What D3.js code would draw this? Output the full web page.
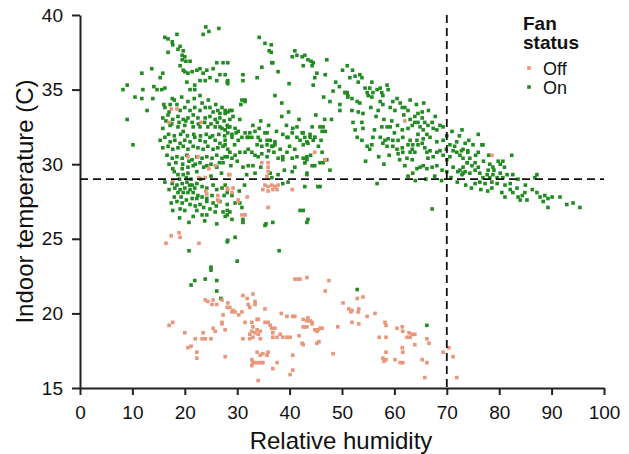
<!DOCTYPE html>
<html lang="en">
<head>
  <meta charset="UTF-8"/>
  <title>Fan status: indoor temperature vs relative humidity</title>
  <style>
    *{margin:0;padding:0;box-sizing:border-box}
    body{background:#fff;font-family:"Liberation Sans",Arial,sans-serif}
    #chart{width:629px;height:454px}
  </style>
</head>
<body>
  <div id="chart"></div>

  <script src="https://d3js.org/d3.v7.min.js"></script>
  <script>
    // [relative humidity, indoor temperature]
    const fanOn = [
      [24.0,39.2],[26.5,39.1],[24.6,38.9],[23.5,38.7],[16.2,38.5],[16.8,38.4],[17.6,38.2],[18.5,38.7],[17.7,38.0],[19.1,37.9],
      [18.7,37.7],[19.7,37.6],[16.8,37.5],[19.5,37.3],[20.0,37.2],[19.5,37.0],[20.2,36.9],[19.1,36.6],[21.0,36.9],[19.7,36.3],
      [20.0,36.2],[20.6,36.1],[21.4,36.2],[22.3,36.3],[22.9,36.4],[23.5,36.1],[24.2,36.3],[25.4,36.4],[26.1,36.8],[27.3,36.8],
      [26.7,36.0],[27.7,36.0],[28.1,35.5],[26.1,35.6],[24.8,35.8],[23.9,35.6],[22.9,35.6],[21.9,35.3],[20.4,35.5],[21.0,35.0],
      [21.9,35.0],[22.9,34.6],[15.8,36.1],[15.3,35.8],[13.7,36.4],[11.8,36.1],[14.1,35.2],[14.7,35.0],[15.6,35.0],[16.2,35.1],
      [12.0,35.0],[9.0,35.3],[8.2,35.0],[10.5,34.5],[11.8,34.4],[13.9,34.4],[12.8,33.6],[9.0,33.0],[17.6,34.4],[17.2,34.0],
      [16.2,33.8],[18.5,34.0],[19.1,33.6],[20.0,33.8],[21.0,33.6],[21.9,33.8],[22.9,33.6],[23.9,33.8],[24.8,33.8],[25.4,33.5],
      [26.3,33.6],[27.1,33.8],[27.7,33.4],[26.7,33.1],[25.8,33.0],[24.8,33.2],[23.9,33.1],[22.5,33.1],[21.6,33.3],[20.6,33.1],
      [19.7,33.0],[18.7,33.2],[17.7,33.0],[16.8,33.3],[15.8,33.1],[17.2,32.6],[18.7,32.5],[20.0,32.6],[21.6,32.5],[22.9,32.5],
      [24.4,32.5],[25.8,32.5],[27.1,32.4],[28.2,32.5],[19.7,32.2],[15.8,32.4],[10.1,31.3],
      [15.3,31.6],[16.2,31.8],[17.2,31.5],[18.1,31.6],[19.1,31.4],[20.0,31.6],[21.0,31.5],[21.9,31.8],[22.9,31.6],[23.9,31.5],
      [24.8,31.8],[25.8,31.6],[26.7,31.4],[27.7,31.6],[15.8,31.1],[16.8,31.2],[17.7,31.0],[18.7,31.1],[19.7,31.2],[20.6,31.0],
      [21.6,31.2],[22.5,31.1],[23.5,31.0],[24.4,31.2],[25.4,31.0],[26.3,31.1],[27.3,31.2],[28.2,31.0],[16.6,30.6],[17.6,30.4],
      [18.5,30.5],[19.5,30.4],[20.4,30.6],[21.4,30.3],[22.3,30.5],[23.3,30.4],[24.2,30.5],[25.2,30.4],[26.1,30.6],[27.1,30.4],
      [28.1,30.5],[17.7,29.7],[19.5,29.7],[20.6,29.8],[21.6,29.9],[22.9,30.1],[24.2,29.9],[26.1,29.8],[27.3,30.1],[18.7,29.3],
      [19.7,29.3],[20.6,29.4],[22.3,29.5],
      [16.9,32.0],[18.0,31.9],[19.2,32.0],[20.5,31.9],[21.7,32.0],[23.0,31.9],[24.1,32.0],[25.3,31.9],[26.5,32.0],[27.6,31.9],
      [29.0,32.0],[16.4,32.9],[17.5,32.7],[18.9,32.8],[20.2,32.9],[21.4,32.8],[22.6,32.7],[23.8,32.8],[25.0,32.7],[26.2,32.8],
      [27.5,32.9],[16.0,34.0],[17.0,33.5],[18.0,34.3],[19.4,34.5],[20.6,34.2],[21.8,34.4],[23.3,34.1],[24.5,34.3],[25.9,34.0],
      [17.0,30.0],[18.3,30.1],[19.6,30.0],[20.8,30.2],[22.0,30.0],[23.6,29.8],[25.0,30.0],[26.6,30.1],[28.8,29.9],[29.5,31.3],
      [30.0,30.2],[18.0,29.5],[19.0,29.0],[20.3,29.1],[21.2,29.0],[23.0,29.0],[25.0,29.2],[27.0,29.4],
      [16.2,28.8],[17.6,28.7],[18.5,28.6],[19.5,28.7],[20.4,28.8],[21.4,28.6],[22.3,28.7],[18.1,28.4],[19.1,28.3],[20.0,28.4],
      [21.0,28.3],[21.9,28.4],[18.7,28.1],[19.7,28.1],[20.6,28.1],[21.6,28.1],[22.5,27.9],[21.4,27.7],[22.3,27.7],[23.3,27.8],
      [24.2,27.7],[25.2,27.9],[26.1,28.3],[27.1,28.4],[27.7,28.6],[28.1,28.1],[25.4,28.6],[24.2,28.4],[23.3,28.5],[18.5,27.5],
      [19.5,27.4],[22.9,27.3],[24.2,27.5],[25.4,27.4],[26.7,27.5],[28.1,27.3],[17.7,26.9],[19.1,27.0],[20.0,26.9],[22.3,26.9],
      [23.3,26.6],[24.2,26.6],[25.8,26.8],[27.3,26.8],[28.1,26.6],
      [17.0,28.3],[18.0,27.8],[19.3,27.8],[20.3,27.6],[21.0,27.3],[22.0,27.2],[23.6,27.1],[24.8,27.0],[26.0,27.2],[27.5,27.9],
      [29.0,27.9],[30.4,28.2],[31.4,28.6],[20.9,28.6],[19.0,26.4],[21.6,26.5],[23.8,26.2],[17.4,27.4],
      [20.8,26.1],[26.1,26.0],[20.8,24.2],[28.2,24.9],[29.6,25.1],[30.0,23.5],[31.1,26.1],[35.5,26.0],[36.8,26.1],[38.0,24.2],
      [43.3,26.1],[25.0,23.1],[25.0,22.9],[21.2,21.9],[21.9,22.2],[23.9,22.3],[26.1,22.2],[26.1,21.5],[26.9,21.0],[52.9,21.6],
      [66.2,19.2],[67.2,27.0],[56.7,28.7],
      [34.2,38.5],[35.3,38.1],[36.5,38.0],[36.1,37.6],[36.5,37.5],[41.0,37.6],[41.4,37.3],[40.5,37.2],[42.9,37.3],[44.1,36.9],
      [44.5,36.8],[44.3,36.6],[42.6,36.6],[47.1,37.0],[45.2,36.1],[44.8,35.8],[46.8,36.0],[44.5,35.3],[39.9,35.4],[37.8,36.2],
      [36.6,36.8],[33.8,35.8],[31.1,36.0],[31.1,35.6],[28.2,36.8],[28.2,35.6],[28.2,35.4],[37.2,34.6],[38.5,34.1],[38.5,33.2],
      [30.7,34.0],[31.5,34.2],[34.5,32.9],[48.3,34.9],[47.7,34.2],[49.6,34.0],[50.6,34.8],[51.1,34.5],[51.0,34.8],[34.7,36.5],
      [36.8,36.8],[30.9,34.3],[43.5,37.0],[42.4,37.2],
      [27.7,33.6],[28.2,33.5],[29.0,33.6],[28.6,33.0],[28.1,32.6],[27.7,32.3],[28.2,32.1],[29.6,32.4],[30.2,32.2],[30.9,31.8],
      [31.5,32.1],[29.0,31.8],[30.2,31.6],[32.4,32.1],[32.8,31.8],[32.1,31.8],[34.0,31.8],[35.3,32.1],[35.7,31.6],[36.3,31.6],
      [37.2,31.5],[37.2,31.3],[36.6,31.2],[35.7,31.3],[34.7,31.2],[33.8,31.3],[40.6,32.4],[41.4,32.5],[40.5,32.1],[39.5,31.8],
      [39.7,31.8],[41.4,31.8],[42.0,31.6],[42.4,32.1],[42.9,31.8],[43.9,32.0],[44.5,31.6],[44.8,31.8],[45.8,32.5],[46.4,32.5],
      [44.3,32.5],[43.3,31.5],[42.6,31.3],[43.5,31.4],[27.7,31.3],[28.6,30.8],[29.6,30.6],[30.5,30.8],[31.5,30.8],[32.1,31.0],
      [32.8,30.8],[33.4,30.6],[34.0,30.5],[34.7,30.7],[35.7,30.5],[27.7,30.5],[29.0,30.4],[37.8,30.4],[38.7,30.3],[38.7,30.5],
      [39.5,30.8],[40.5,30.4],[41.4,30.5],[42.6,30.4],[42.9,30.1],[43.3,30.5],[44.8,29.9],[45.8,30.1],[46.4,30.1],[46.8,30.3],
      [47.7,29.6],[31.1,29.8],[32.1,29.9],[33.4,29.4],[34.5,29.8],[36.3,29.4],[36.6,29.1],[37.8,29.3],[40.5,29.5],[41.0,29.8],
      [43.3,29.3],[45.8,28.5],[45.4,28.5],[30.9,27.1],[30.5,27.4],[29.6,27.4],[28.6,26.8],[28.1,26.9],[31.1,26.3],[27.7,26.5],
      [29.0,26.3],[35.3,25.9],[42.6,26.9],[28.1,24.8],[38.7,28.7],[39.7,28.8],[42.9,28.5],
      [26.7,33.4],[28.6,33.6],[29.2,33.2],[30.5,33.0],[31.5,34.3],[26.7,32.5],[28.6,32.5],[29.8,32.1],[31.9,31.8],[33.4,32.2],
      [34.4,31.6],[35.7,32.1],[36.8,31.2],[42.6,32.1],[43.9,31.8],[44.8,31.8],[46.2,32.2],[46.8,32.2],[43.3,30.3],[42.9,30.1],
      [44.3,29.9],[46.2,30.8],[47.1,30.3],[43.3,29.4],[42.0,26.9],[43.5,26.3],
      [33.0,32.6],[34.2,32.4],[36.0,32.6],[37.5,32.2],[38.7,32.0],[39.4,32.6],[40.0,31.2],[41.0,31.0],[38.2,31.0],[37.0,30.8],
      [36.0,30.9],[39.0,29.6],[33.0,29.9],[31.8,29.3],[44.0,30.6],[45.5,31.2],[46.0,31.6],[41.8,33.0],[39.8,33.5],[45.0,33.3],
      [46.7,33.0],
      [51.0,36.6],[51.5,35.8],[52.5,35.9],[53.4,36.0],[53.8,35.8],[53.1,35.5],[54.4,35.1],[54.8,34.8],[55.3,35.1],[55.7,35.5],
      [55.0,34.6],[55.7,34.5],[55.9,34.8],[56.7,35.0],[57.3,35.1],[57.6,34.8],[58.6,35.3],[58.8,35.0],[57.8,34.6],[50.6,34.8],
      [51.1,34.6],[51.9,34.4],[52.9,34.2],[53.4,34.1],[57.3,34.2],[57.8,34.0],[56.9,33.6],[59.2,33.8],[59.7,34.2],[60.5,34.4],
      [61.1,34.1],[61.5,33.8],[60.1,33.6],[62.0,33.8],[51.9,33.6],[52.1,32.8],[52.5,32.3],[53.1,33.5],[53.8,32.8],[54.0,32.4],
      [52.9,31.8],[49.6,33.6],[57.6,32.5],[58.6,32.5],[59.2,32.5],[55.9,31.8],[57.3,31.8],[58.2,31.6],[58.8,31.7],[59.7,31.6],
      [60.7,31.6],[54.8,31.2],[55.3,31.0],[55.7,31.3],[57.8,31.4],[58.6,31.2],[59.7,31.2],[60.5,31.0],[60.7,30.7],[61.5,31.1],
      [61.6,30.8],[62.4,30.4],[63.0,30.8],[63.4,31.0],[62.6,31.3],[63.0,31.6],[61.6,31.8],[61.5,32.3],[62.6,32.4],[63.4,32.6],
      [63.9,32.8],[64.5,32.8],[63.9,33.2],[64.5,33.4],[65.3,33.5],[64.9,32.5],[65.5,32.3],[65.8,32.8],[66.4,32.6],[67.2,32.8],
      [67.4,32.4],[68.1,32.3],[68.7,32.6],[69.3,32.5],[66.2,32.0],[66.8,31.8],[65.5,31.7],[64.5,32.0],[65.3,33.1],[63.0,33.0],
      [64.3,31.6],[65.3,31.4],[65.8,31.1],[66.2,30.8],[66.8,30.9],[67.4,30.5],[68.1,30.8],[68.7,30.9],[69.3,30.6],[70.0,30.3],
      [70.6,30.5],[71.2,30.9],[71.9,30.8],[72.5,30.6],[73.1,30.4],[73.9,30.1],[74.0,30.9],[73.5,31.4],[71.9,31.5],[70.6,31.3],
      [69.3,31.6],[68.1,31.5],[66.4,30.4],[65.5,29.9],[66.2,29.7],[67.2,29.8],[68.1,29.9],[69.1,29.6],[70.0,29.5],[71.2,29.8],
      [72.1,29.5],[73.1,29.4],[64.9,29.8],[64.3,29.7],[63.4,30.3],[63.9,30.8],[62.6,29.2],[64.5,31.3],[63.5,31.3],
      [56.5,33.2],[58.0,33.0],[59.5,32.9],[60.6,32.6],[61.8,33.3],[62.6,33.6],[60.0,32.1],[59.0,30.6],[61.0,30.3],[62.0,29.9],
      [63.5,29.4],[64.0,28.9],[66.0,29.0],[67.7,29.2],[69.0,28.9],[70.8,29.1],[72.0,28.8],[73.6,28.6],[74.7,28.4],[76.5,28.3],
      [77.8,28.2],[78.6,28.4],[70.0,31.9],[71.0,32.2],[72.4,31.9],[67.8,33.2],[66.5,33.6],[65.6,34.1],[64.2,34.0],[63.0,34.3],
      [69.9,31.0],[71.5,31.2],[72.8,30.9],[75.5,30.6],[77.0,30.2],[78.0,30.6],[79.0,29.6],[81.0,29.8],[83.6,29.0],[85.0,28.6],
      [76.0,32.0],[54.0,33.4],[55.5,33.8],[56.2,32.3],[54.5,30.2],[53.8,31.6],[57.0,30.5],[58.0,30.0],[48.8,35.5],[49.5,35.2],
      [50.1,36.3],[52.0,36.3],[46.5,34.5],[48.0,33.0],
      [72.9,32.3],[74.2,31.6],[75.0,31.3],[76.9,31.3],[76.0,30.8],[73.1,31.0],[74.0,30.8],[74.4,30.4],[75.4,30.1],[74.8,29.9],
      [73.9,30.1],[73.1,29.8],[72.5,29.6],[73.5,29.5],[72.9,29.3],[74.4,29.4],[75.4,29.6],[76.0,29.8],[76.3,29.4],[76.9,29.1],
      [77.7,29.3],[78.2,29.1],[78.8,29.3],[79.6,29.1],[80.2,29.4],[80.7,29.1],[78.6,28.8],[77.3,28.7],[76.3,28.8],[75.4,28.7],
      [79.6,28.7],[81.5,29.3],[82.6,29.3],[82.1,28.7],[81.1,28.6],[77.9,29.6],[78.8,29.8],[78.2,30.0],[79.8,30.2],[80.2,30.0],
      [80.7,30.2],[82.4,30.6],[80.5,28.1],[81.1,27.8],[82.1,28.3],[82.6,28.1],[83.4,28.4],[83.6,27.8],[84.4,27.9],[84.9,28.1],
      [84.0,27.6],[85.3,27.6],[86.3,28.3],[87.2,28.1],[87.8,27.8],[88.7,27.9],[89.3,27.7],[90.1,27.8],[88.4,27.5],[89.3,27.1],
      [87.2,29.3],[91.6,27.8],[92.9,27.3],[94.1,27.4],[95.4,27.1],[86.8,29.1],[76.7,31.3]
    ];

    const fanOff = [
      [16.4,24.7],[17.4,25.2],[18.9,25.4],[19.1,25.1],[22.7,24.7],
      [17.0,19.2],[17.7,19.4],[20.0,18.7],[22.0,18.3],[23.3,18.3],[23.9,18.3],[25.0,18.3],[23.5,18.7],[20.6,17.7],[21.2,17.8],
      [22.3,17.4],[22.3,17.0],[23.9,20.9],[24.4,20.8],[25.2,20.6],[25.4,20.9],[26.1,20.6],[27.1,20.9],[28.1,20.4],[28.2,20.7],
      [28.6,20.4],[29.2,20.2],[29.0,20.1],[29.6,20.1],[27.3,19.9],[27.1,19.4],[27.1,19.3],[25.4,19.0],[25.8,18.8],[27.7,18.9],
      [27.7,17.1],[30.3,19.9],[30.9,20.1],[31.1,21.2],[31.9,21.0],[33.0,21.3],[32.1,20.6],[32.4,20.4],[33.4,20.8],[33.4,20.6],
      [35.3,20.3],[31.5,19.4],[32.8,19.4],[33.0,19.1],[33.8,19.6],[34.0,19.6],[32.8,18.8],[32.4,18.6],[33.0,18.4],[33.8,18.9],
      [33.4,18.7],[34.0,18.6],[34.4,18.8],[31.1,18.3],[32.4,18.3],[34.4,18.3],[35.3,19.4],[35.9,19.4],[36.3,19.2],[36.6,19.0],
      [37.2,19.0],[36.8,18.7],[38.2,18.6],[38.7,18.4],[39.5,18.4],[40.1,18.4],[38.4,20.0],[39.5,19.8],[40.6,19.8],[36.8,18.4],
      [37.6,18.4],[33.8,17.4],[34.4,17.2],[34.9,17.3],[35.9,17.4],[35.7,17.2],[32.8,16.9],[32.8,16.5],[33.0,16.7],[33.4,16.7],
      [34.0,16.7],[34.7,16.7],[34.9,16.7],[36.8,16.3],[37.6,16.7],[34.0,15.5],[40.1,15.9],[40.6,16.2],[40.6,17.2],
      [41.0,22.3],[41.6,22.3],[42.0,22.3],[43.3,22.4],[47.5,22.2],[46.8,21.5],[50.2,20.7],[51.3,20.3],[51.9,20.2],[51.7,20.1],
      [52.9,21.0],[54.0,21.1],[53.2,20.3],[53.1,20.1],[54.8,19.8],[56.3,20.0],[51.9,19.4],[53.2,19.3],[49.2,19.1],[48.3,17.3],
      [41.0,19.8],[41.8,18.5],[42.6,19.6],[43.3,19.5],[43.5,19.7],[43.9,19.5],[44.3,19.4],[44.3,19.3],[42.6,19.1],[42.9,19.1],
      [43.3,19.1],[44.8,18.9],[45.2,18.8],[45.4,18.9],[45.8,19.0],[46.2,19.0],[42.4,18.0],[42.6,17.9],[45.2,18.0],[45.6,18.1],
      [58.2,19.4],[58.4,19.2],[57.1,18.4],[58.4,18.4],[58.4,17.4],[57.8,17.0],[58.0,16.8],[58.4,16.9],[60.5,19.0],[61.5,19.1],
      [61.6,18.8],[62.4,18.4],[63.0,18.4],[63.4,18.6],[62.8,18.7],[63.9,18.6],[61.5,17.7],[61.6,17.4],[60.1,16.9],[61.1,16.7],
      [61.6,16.7],[63.9,17.9],[65.3,16.9],[66.2,18.3],[66.6,18.0],[66.2,16.7],[65.8,15.7],[69.3,17.4],[70.4,17.7],[71.2,17.1],
      [71.9,15.7],
      [17.4,33.7],[18.5,33.7],[17.0,32.8],[23.1,32.8],[20.6,30.5],[22.5,30.5],[24.6,29.7],[25.8,29.9],[17.7,28.9],[22.7,29.1],
      [23.9,29.1],[24.0,28.2],[24.2,28.0],[26.3,27.9],[26.5,27.5],[28.1,28.4],[28.4,29.3],[28.2,28.3],[29.0,28.1],[30.2,27.5],
      [31.9,27.8],[30.9,26.6],[31.5,26.6],[34.7,30.1],[35.9,30.1],[35.9,29.8],[35.9,29.5],[35.7,29.2],[35.3,28.6],[35.9,28.5],
      [36.6,28.6],[37.2,28.5],[36.8,28.3],[37.6,28.3],[37.8,28.6],[34.9,28.3],[35.9,28.2],[40.5,28.3],[35.9,27.1],[44.8,30.8],
      [46.8,30.3],[62.0,32.9],[78.6,30.6],[28.6,29.3],[29.2,28.4],[26.3,27.6],[30.2,27.6]
    ];

    const xTicks = [0,10,20,30,40,50,60,70,80,90,100];
    const yTicks = [15,20,25,30,35,40];
    const humidityCut = 70;
    const tempCut = 29;
    const legendTitle = ['Fan', 'status'];
    const legendLabels = ['Off', 'On'];

    const colors = { Off:'#e9967a', On:'#228b22' };

    const width = 629, height = 454;
    const x = d3.scaleLinear().domain([0,100]).range([80,604]);
    const y = d3.scaleLinear().domain([15,40]).range([388,15]);

    const svg = d3.select('#chart').append('svg')
      .attr('width', width).attr('height', height);

    const font = '"Liberation Sans",Arial,sans-serif';

    // axes
    const xAxis = svg.append('g')
      .attr('transform', `translate(0,${y(15)})`)
      .call(d3.axisBottom(x).tickValues(xTicks).tickSize(7).tickSizeOuter(0).tickPadding(11));
    const yAxis = svg.append('g')
      .attr('transform', `translate(${x(0)},0)`)
      .call(d3.axisLeft(y).tickValues(yTicks).tickSize(8).tickSizeOuter(0).tickPadding(9));

    [xAxis, yAxis].forEach(g => {
      g.selectAll('path,line').attr('stroke', '#222').attr('stroke-width', 2);
      g.selectAll('text').attr('fill', '#111').style('font-family', font).style('font-size', '19px');
    });

    // points
    const sz = 3.6;
    svg.append('g').selectAll('rect')
      .data(fanOn).join('rect')
      .attr('x', d => x(d[0]) - sz/2).attr('y', d => y(d[1]) - sz/2)
      .attr('width', sz).attr('height', sz).attr('fill', colors.On);
    svg.append('g').selectAll('rect')
      .data(fanOff).join('rect')
      .attr('x', d => x(d[0]) - sz/2).attr('y', d => y(d[1]) - sz/2)
      .attr('width', sz).attr('height', sz).attr('fill', colors.Off);

    // reference lines
    svg.append('line')
      .attr('x1', x(0)).attr('x2', x(100)).attr('y1', y(tempCut)).attr('y2', y(tempCut))
      .attr('stroke', '#111').attr('stroke-width', 1.8).attr('stroke-dasharray', '8,5');
    svg.append('line')
      .attr('x1', x(humidityCut)).attr('x2', x(humidityCut)).attr('y1', y(40)).attr('y2', y(15))
      .attr('stroke', '#111').attr('stroke-width', 1.8).attr('stroke-dasharray', '8,5');

    // axis titles
    svg.append('text')
      .attr('x', 341).attr('y', 449).attr('text-anchor', 'middle')
      .style('font-family', font).style('font-size', '24px').attr('fill', '#111')
      .text('Relative humidity');
    svg.append('text')
      .attr('transform', `translate(33,${(y(15)+y(40))/2}) rotate(-90)`)
      .attr('text-anchor', 'middle')
      .style('font-family', font).style('font-size', '24px').attr('fill', '#111')
      .text('Indoor temperature (C)');

    // legend
    const leg = svg.append('g');
    legendTitle.forEach((t, i) => {
      leg.append('text').attr('x', 523).attr('y', 30 + i*19)
        .style('font-family', font).style('font-size', '19px').style('font-weight', 'bold')
        .attr('fill', '#111').text(t);
    });
    legendLabels.forEach((t, i) => {
      const cy = 68 + i*19;
      leg.append('rect').attr('x', 529 - sz/2).attr('y', cy - sz/2)
        .attr('width', sz).attr('height', sz).attr('fill', colors[t]);
      leg.append('text').attr('x', 543).attr('y', cy + 7)
        .style('font-family', font).style('font-size', '18px')
        .attr('fill', '#111').text(t);
    });
  </script>
</body>
</html>
